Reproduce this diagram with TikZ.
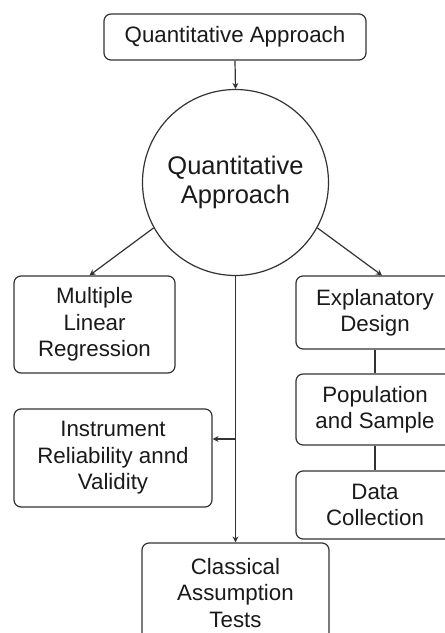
\documentclass[tikz,border=0pt]{standalone}
\usepackage{fontspec}
\setmainfont{Liberation Sans}
\usetikzlibrary{arrows.meta,calc}
\definecolor{ln}{HTML}{333333}
\definecolor{tx}{HTML}{1A1A1A}
\begin{document}
\begin{tikzpicture}[x=1pt,y=-1pt,
  box/.style={draw=ln,line width=1.2pt,rounded corners=7pt,align=center,text=tx,inner sep=0pt,
    font=\fontsize{22.3}{26.5}\selectfont},
  circ/.style={draw=ln,line width=1.2pt,circle,align=center,text=tx,inner sep=0pt,minimum size=186pt,
    font=\fontsize{25.5}{29}\selectfont},
  conn/.style={draw=ln,line width=1.2pt},
  arr/.style={conn,-{Stealth[length=6pt,width=6pt]}}]
\clip (0,0) rectangle (445,633);
\fill[white] (0,0) rectangle (445,633);
\node[box,minimum width=262pt,minimum height=46pt] (top) at (235,37) {Quantitative Approach};
\node[circ] (qa) at (235.5,182.5) {Quantitative\\Approach};
\node[box,minimum width=161pt,minimum height=97pt] (mlr) at (94.5,324.5) {Multiple\\Linear\\Regression};
\node[box,minimum width=158pt,minimum height=73pt] (expl) at (375,312.5) {Explanatory\\Design};
\node[box,minimum width=158pt,minimum height=71pt] (pop) at (375,409.5) {Population\\and Sample};
\node[box,minimum width=158pt,minimum height=68pt] (data) at (375,505) {Data\\Collection};
\node[box,minimum width=198pt,minimum height=98pt] (inst) at (113,458) {Instrument\\Reliability annd\\Validity};
\node[box,minimum width=187pt,minimum height=100pt] (cls) at (235.5,593) {Classical\\Assumption\\Tests};
\coordinate (j) at (235.5,439);
\draw[arr] (top.south) -- (qa.north);
\draw[arr] (qa.209) -- ($(mlr.north)+(-5,0)$);
\draw[arr] (qa.331) -- ($(expl.north)+(7,0)$);
\draw[arr] (qa.south) -- (cls.north);
\draw[arr] (j) -- (j -| inst.east);
\draw[conn] (expl.south) -- (pop.north);
\draw[conn] (pop.south) -- (data.north);
\end{tikzpicture}
\end{document}
